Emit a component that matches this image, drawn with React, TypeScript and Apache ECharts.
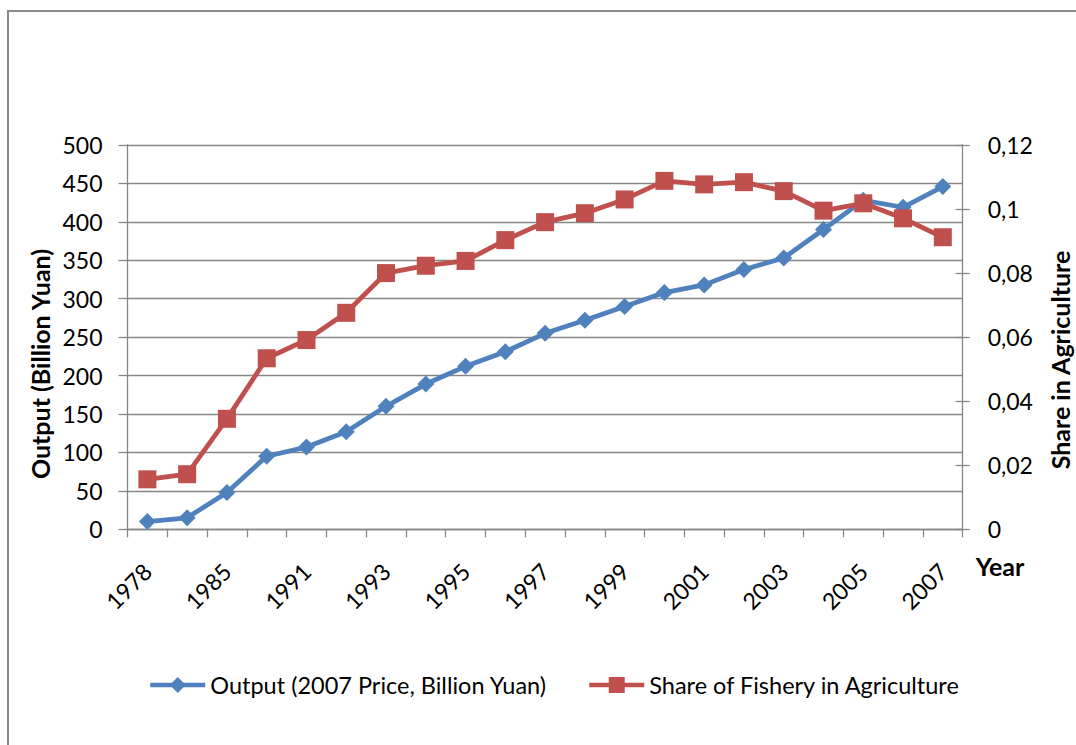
import React, { useEffect, useRef } from "react";
import * as echarts from "echarts";

const years = [
  "1978", "1980", "1985", "1990", "1991", "1992", "1993", "1994", "1995", "1996", "1997",
  "1998", "1999", "2000", "2001", "2002", "2003", "2004", "2005", "2006", "2007",
];
const outputValues = [
  10, 15, 48, 95, 107, 127, 160, 189, 212, 231, 255, 272, 290, 308, 318, 338, 353, 390, 428, 419, 446,
];
const shareValues = [
  0.0156, 0.0172, 0.0345, 0.0534, 0.0591, 0.0676, 0.08, 0.0823, 0.0838, 0.0903, 0.0959, 0.0987,
  0.103, 0.1088, 0.1077, 0.1084, 0.1056, 0.0995, 0.1018, 0.0971, 0.0912,
];
const seriesNames = ["Output (2007 Price, Billion Yuan)", "Share of Fishery in Agriculture"];
const leftTitle = "Output (Billion Yuan)";
const rightTitle = "Share in Agriculture";
const xTitle = "Year";

const FONT = "Lato";
const GRAY = "#868686";

export default function App() {
  const ref = useRef<HTMLDivElement>(null);
  useEffect(() => {
    const chart = echarts.init(ref.current!, null, { renderer: "svg" });
    chart.setOption({
      animation: false,
      backgroundColor: "#fff",
      textStyle: { fontFamily: FONT },
      grid: { left: 127.5, top: 145, width: 835.2, height: 384.3, containLabel: false },
      legend: {
        left: 148,
        top: 673,
        padding: 0,
        itemWidth: 55,
        itemHeight: 20,
        itemGap: 40,
        lineStyle: { width: 4.5 },
        textStyle: { fontFamily: FONT, fontSize: 23.5, color: "#000" },
        data: seriesNames,
      },
      xAxis: {
        type: "category",
        data: years,
        boundaryGap: true,
        axisLine: { show: true, lineStyle: { color: GRAY, width: 1.3 } },
        axisTick: { show: true, alignWithLabel: false, interval: 0, length: 8, lineStyle: { color: GRAY, width: 1.3 } },
        axisLabel: {
          interval: 1,
          rotate: 45,
          margin: 38,
          align: "right",
          verticalAlign: "middle",
          fontFamily: FONT,
          fontSize: 23,
          color: "#000",
        },
        splitLine: { show: false },
      },
      yAxis: [
        {
          type: "value",
          min: 0,
          max: 500,
          interval: 50,
          position: "left",
          axisLine: { show: true, lineStyle: { color: GRAY, width: 1.3 } },
          axisTick: { show: true, length: 9, lineStyle: { color: GRAY, width: 1.3 } },
          axisLabel: { margin: 25, fontFamily: FONT, fontSize: 23, color: "#000" },
          splitLine: { show: true, lineStyle: { color: GRAY, width: 1.3 } },
        },
        {
          type: "value",
          min: 0,
          max: 0.12,
          interval: 0.02,
          position: "right",
          axisLine: { show: true, lineStyle: { color: GRAY, width: 1.3 } },
          axisTick: { show: true, length: 7, lineStyle: { color: GRAY, width: 1.3 } },
          axisLabel: {
            margin: 25,
            fontFamily: FONT,
            fontSize: 23,
            color: "#000",
            formatter: (v: number) => String(+v.toFixed(2)).replace(".", ","),
          },
          splitLine: { show: false },
        },
        {
          type: "value",
          min: 0,
          max: 0.12,
          interval: 0.02,
          position: "right",
          axisLine: { show: false },
          axisTick: { show: true, inside: true, length: 7, lineStyle: { color: GRAY, width: 1.3 } },
          axisLabel: { show: false },
          splitLine: { show: false },
        },
      ],
      series: [
        {
          name: seriesNames[0],
          type: "line",
          yAxisIndex: 0,
          data: outputValues,
          symbol: "diamond",
          symbolSize: 17,
          lineStyle: { color: "#4F81BD", width: 4.8 },
          itemStyle: { color: "#4F81BD" },
        },
        {
          name: seriesNames[1],
          type: "line",
          yAxisIndex: 1,
          data: shareValues,
          symbol: "rect",
          symbolSize: 18,
          lineStyle: { color: "#C0504D", width: 4.8 },
          itemStyle: { color: "#C0504D" },
        },
      ],
      graphic: [
        {
          type: "rect",
          shape: { x: 8, y: 11, width: 1300, height: 1000 },
          style: { fill: "none", stroke: "#8a8a8a", lineWidth: 2 },
          silent: true,
        },
        {
          type: "text",
          x: 40,
          y: 364,
          rotation: Math.PI / 2,
          style: { text: leftTitle, fontFamily: FONT, fontSize: 25, fontWeight: "bold", fill: "#000", align: "center", verticalAlign: "middle" },
        },
        {
          type: "text",
          x: 1060,
          y: 360,
          rotation: Math.PI / 2,
          style: { text: rightTitle, fontFamily: FONT, fontSize: 25, fontWeight: "bold", fill: "#000", align: "center", verticalAlign: "middle" },
        },
        {
          type: "text",
          x: 1000,
          y: 566,
          style: { text: xTitle, fontFamily: FONT, fontSize: 25, fontWeight: "bold", fill: "#000", align: "center", verticalAlign: "middle" },
        },
      ],
    });
    return () => chart.dispose();
  }, []);
  return (
    <div
      ref={ref}
      style={{ position: "fixed", left: 0, top: 0, width: 1076, height: 745, background: "#fff" }}
    />
  );
}
